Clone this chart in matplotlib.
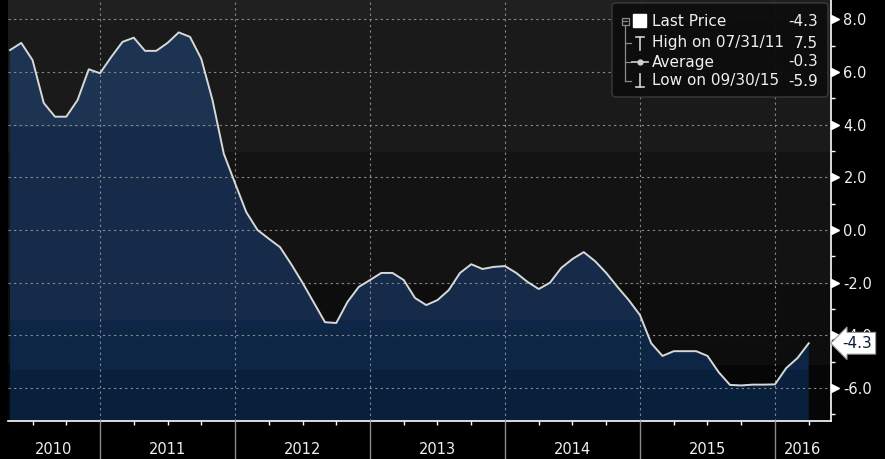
import numpy as np
import matplotlib
matplotlib.use("Agg")
import matplotlib.pyplot as plt
import matplotlib.transforms as mtransforms
from matplotlib.patches import FancyBboxPatch, Rectangle

# monthly values, end of Apr 2010 .. end of Mar 2016
values = [
    6.83, 7.1, 6.45, 4.82, 4.3, 4.3, 4.93, 6.1, 5.95,                       # 2010 Apr-Dec
    6.57, 7.14, 7.3, 6.8, 6.8, 7.1, 7.5, 7.33, 6.5, 4.93, 2.9, 1.78,         # 2011
    0.68, 0.0, -0.33, -0.65, -1.3, -2.0, -2.75, -3.5, -3.53, -2.73, -2.16, -1.9,   # 2012
    -1.63, -1.63, -1.9, -2.58, -2.85, -2.66, -2.28, -1.63, -1.3, -1.48, -1.4, -1.37,  # 2013
    -1.63, -1.97, -2.24, -2.0, -1.44, -1.1, -0.84, -1.18, -1.63, -2.16, -2.66, -3.23,  # 2014
    -4.3, -4.78, -4.6, -4.6, -4.6, -4.78, -5.4, -5.88, -5.9, -5.87, -5.87, -5.86,     # 2015
    -5.24, -4.86, -4.3,                                                       # 2016 Jan-Mar
]
# x = months since start of 2010 (end of April 2010 = 4)
months = np.arange(4, 4 + len(values))
years = ["2010", "2011", "2012", "2013", "2014", "2015", "2016"]
yticks = [-6.0, -4.0, -2.0, 0.0, 2.0, 4.0, 6.0, 8.0]
high_label = "High on 07/31/11"
low_label = "Low on 09/30/15"

vals = np.array(values)
XMIN, XMAX = 3.82, 76.98
YMIN, YMAX = -7.25, 8.73
W, H = 885, 459
txt = "#f0f0f0"
grid_c = "#8a8a8a"

fig = plt.figure(figsize=(W / 100, H / 100), dpi=100, facecolor="black")
ax = fig.add_axes([8 / W, 38 / H, 823 / W, 421 / H])
ax.set_xlim(XMIN, XMAX)
ax.set_ylim(YMIN, YMAX)

# background bands
bg_bands = [(7.97, YMAX, "#202020"), (2.96, 7.97, "#1a1a1a"), (-2.09, 2.96, "#131313"),
            (-5.12, -2.09, "#0d0d0d"), (YMIN, -5.12, "#060606")]
for lo, hi, c in bg_bands:
    ax.axhspan(lo, hi, color=c, lw=0, zorder=0)

# area fill with banded blue
poly = ax.fill_between(months, vals, YMIN, color="none", lw=0)
clip = poly.get_paths()[0]
fill_bands = [(3.9, YMAX, "#1c3352"), (-3.4, 3.9, "#152b49"),
              (-5.3, -3.4, "#0e2645"), (YMIN, -5.3, "#08203b")]
for lo, hi, c in fill_bands:
    sp = ax.axhspan(lo, hi, color=c, lw=0, zorder=1)
    sp.set_clip_path(clip, ax.transData)

ax.plot(months, vals, color="#d8d8d8", lw=1.4, zorder=4)

# grid
ax.set_axisbelow(False)
ax.grid(True, which="major", color=grid_c, ls=(0, (2, 3)), lw=0.8, zorder=3)

# x axis: year boundaries and quarter ticks
year_edges = [12, 24, 36, 48, 60, 72]
ax.set_xticks(year_edges)
ax.set_xticklabels([])
ax.set_xticks([m for m in range(6, 77, 3) if m % 12 != 0], minor=True)
ax.tick_params(axis="x", which="major", length=27.5, color=grid_c, width=1, direction="out")
ax.tick_params(axis="x", which="minor", length=3, color="white", width=1, direction="out")
bounds = [XMIN] + year_edges + [XMAX]
for i, lab in enumerate(years):
    c = (bounds[i] + bounds[i + 1]) / 2
    ax.text(c, -29 / 421, lab, transform=ax.get_xaxis_transform(), ha="center", va="center",
            color=txt, fontsize=10.5, family="DejaVu Sans")

# y axis on the right
ax.yaxis.tick_right()
ax.set_yticks(yticks)
ax.set_yticklabels([f"{v:.1f}" for v in yticks])
ax.set_yticks(np.arange(-7, 9, 2), minor=True)
ax.tick_params(axis="y", which="major", length=0, pad=9, labelcolor=txt, labelsize=10.5)
ax.tick_params(axis="y", which="minor", length=3, color="white", width=1, direction="out")
tri_tr = mtransforms.offset_copy(ax.get_yaxis_transform(), fig=fig, x=4, y=0, units="dots")
ax.plot([1] * len(yticks), yticks, ls="none", marker=">", ms=6, color="white",
        transform=tri_tr, clip_on=False, zorder=5)

for s in ["left", "top"]:
    ax.spines[s].set_visible(False)
for s in ["right", "bottom"]:
    ax.spines[s].set_color("white")
    ax.spines[s].set_linewidth(1.2)

# last price tag
last = vals[-1]
ax.text(1.014, last, f"{last:.1f}", transform=ax.get_yaxis_transform(), ha="left", va="center",
        fontsize=11, color="#0a1a3a", zorder=10, clip_on=False,
        bbox=dict(boxstyle="larrow,pad=0.22", fc="white", ec="#9a9a9a", lw=0.8))

# legend overlay in pixel coordinates
ov = fig.add_axes([0, 0, 1, 1])
ov.set_xlim(0, W)
ov.set_ylim(H, 0)
ov.axis("off")
ov.patch.set_alpha(0)
ov.add_patch(FancyBboxPatch((614, 5), 212, 90, boxstyle="round,pad=2,rounding_size=4",
                            fc="#0d0d0d", ec="#3c3c3c", lw=1, alpha=0.95))
rows_y = [21, 43, 62, 81]
tree = "#8a8a8a"
ov.add_patch(Rectangle((621.5, 17.5), 7, 7, fill=False, ec=tree, lw=0.9))
ov.plot([623, 627], [21, 21], color=tree, lw=0.9)
ov.plot([625, 625], [25, 81], color=tree, lw=0.9)
for yy in rows_y[1:]:
    ov.plot([625, 631], [yy, yy], color=tree, lw=0.9)
ov.add_patch(Rectangle((633, 14), 13, 13, fc="white", ec="white"))
ov.plot([640, 640], [37, 50], color="#d0d0d0", lw=1.2)
ov.plot([636, 644], [37, 37], color="#d0d0d0", lw=1.2)
ov.plot([632, 648], [62, 62], color="#d0d0d0", lw=1.2)
ov.plot([640], [62], marker="o", ms=3.5, color="#d0d0d0")
ov.plot([640, 640], [74, 87], color="#d0d0d0", lw=1.2)
ov.plot([636, 644], [87, 87], color="#d0d0d0", lw=1.2)

labels = ["Last Price", high_label, "Average", low_label]
nums = [vals[-1], vals.max(), vals.mean(), vals.min()]
for yy, lab, n in zip(rows_y, labels, nums):
    ov.text(652, yy, lab, ha="left", va="center", color=txt, fontsize=11)
    ov.text(818, yy, f"{n:.1f}", ha="right", va="center", color=txt, fontsize=11)

fig.savefig("out.png", dpi=100, facecolor="black")
